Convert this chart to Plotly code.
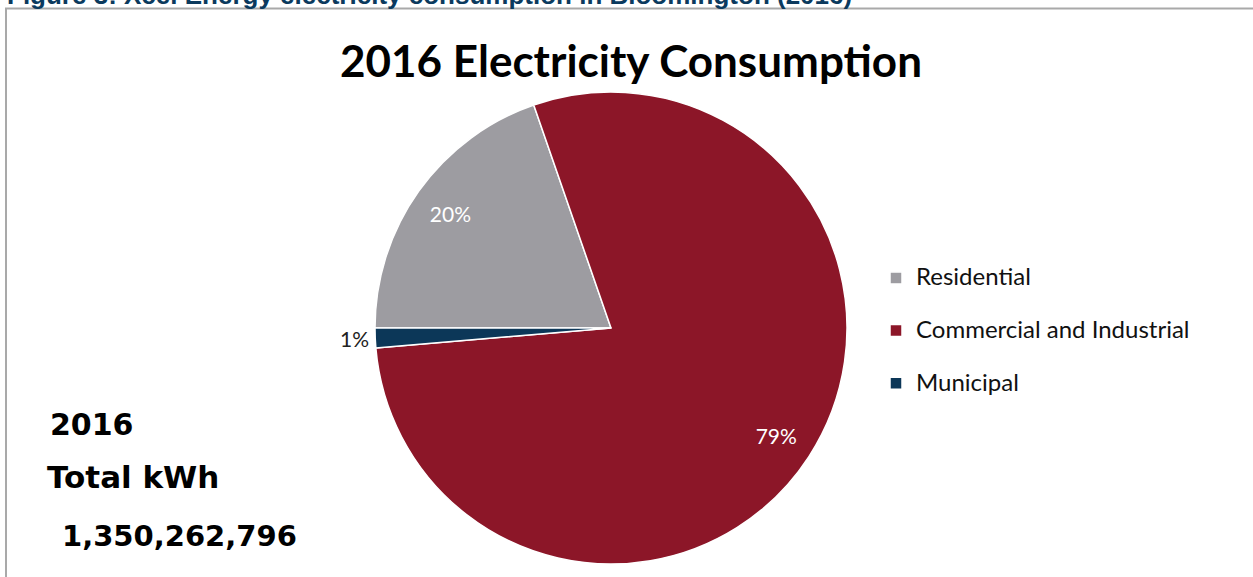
import plotly.graph_objects as go

# 2016 electricity consumption by customer class (kWh)
categories = ["Residential", "Commercial and Industrial", "Municipal"]
consumption_kwh = [265_900_000, 1_066_062_796, 18_300_000]
total_label = "1,350,262,796"
slice_colors = ["#9d9ca1", "#8c1628", "#0c3758"]
label_positions = ["inside", "inside", "outside"]

W, H = 1253, 577

def px_x(v):
    return v / W

def px_y(v):
    return 1 - v / H

pie_domain = dict(x=[px_x(375), px_x(847)], y=[px_y(564), px_y(92)])

fig = go.Figure()

# Coloured slices (legend source); each legend entry gets a blank second
# line so the entries sit further apart
fig.add_trace(go.Pie(
    labels=[f"<span style='font-size:24px'>{c}</span><br> " for c in categories],
    values=consumption_kwh,
    sort=False,
    direction="clockwise",
    rotation=270,
    marker=dict(colors=slice_colors, line=dict(color="white", width=1.5)),
    textinfo="none",
    domain=pie_domain,
    hoverinfo="skip",
))

# Transparent ring over the same slices, carrying the percentage labels
# near the outer edge
fig.add_trace(go.Pie(
    labels=categories,
    values=consumption_kwh,
    sort=False,
    direction="clockwise",
    rotation=270,
    hole=0.67,
    marker=dict(colors=["rgba(0,0,0,0)"] * 3, line=dict(width=0)),
    texttemplate="%{percent:.0%}",
    textposition=label_positions,
    insidetextfont=dict(color="white", size=21, family="Lato"),
    outsidetextfont=dict(color="#222222", size=21, family="Lato"),
    insidetextorientation="horizontal",
    domain=pie_domain,
    showlegend=False,
    hoverinfo="label+value+percent",
))

fig.update_layout(
    width=W, height=H,
    margin=dict(l=0, r=0, t=0, b=0),
    paper_bgcolor="white",
    plot_bgcolor="white",
    showlegend=True,
    legend=dict(
        x=px_x(876), y=px_y(343), xanchor="left", yanchor="middle",
        font=dict(family="Lato", size=19.1, color="#111111"),
        valign="top",
        bgcolor="rgba(0,0,0,0)",
        itemclick=False,
    ),
    shapes=[
        dict(type="rect", xref="paper", yref="paper",
             x0=px_x(6), x1=1.02, y0=-0.02, y1=px_y(8.5),
             line=dict(color="#a9a9a9", width=2), fillcolor="rgba(0,0,0,0)"),
    ],
    annotations=[
        dict(text="<b>Figure 3: Xcel Energy electricity consumption in Bloomington (2016)</b>",
             xref="paper", yref="paper", x=px_x(5), y=px_y(11.5),
             xanchor="left", yanchor="bottom", showarrow=False,
             font=dict(family="Liberation Sans", size=26, color="#0b3a5e"),
             ),
        dict(text="<b>2016 Electricity Consumption</b>",
             xref="paper", yref="paper", x=px_x(631), y=px_y(60),
             xanchor="center", yanchor="middle", showarrow=False,
             font=dict(family="Lato", size=44, color="#000000")),
        dict(text="<b>2016</b>", xref="paper", yref="paper",
             x=px_x(48), y=px_y(424), xanchor="left", yanchor="middle",
             showarrow=False,
             font=dict(family="DejaVu Sans", size=30, color="#000000")),
        dict(text="<b>Total kWh</b>", xref="paper", yref="paper",
             x=px_x(45), y=px_y(477), xanchor="left", yanchor="middle",
             showarrow=False,
             font=dict(family="DejaVu Sans", size=31, color="#000000")),
        dict(text=f"<b>{total_label}</b>", xref="paper", yref="paper",
             x=px_x(60), y=px_y(536), xanchor="left", yanchor="middle",
             showarrow=False,
             font=dict(family="DejaVu Sans", size=29, color="#000000")),
    ],
)

fig.write_html("out.html")
